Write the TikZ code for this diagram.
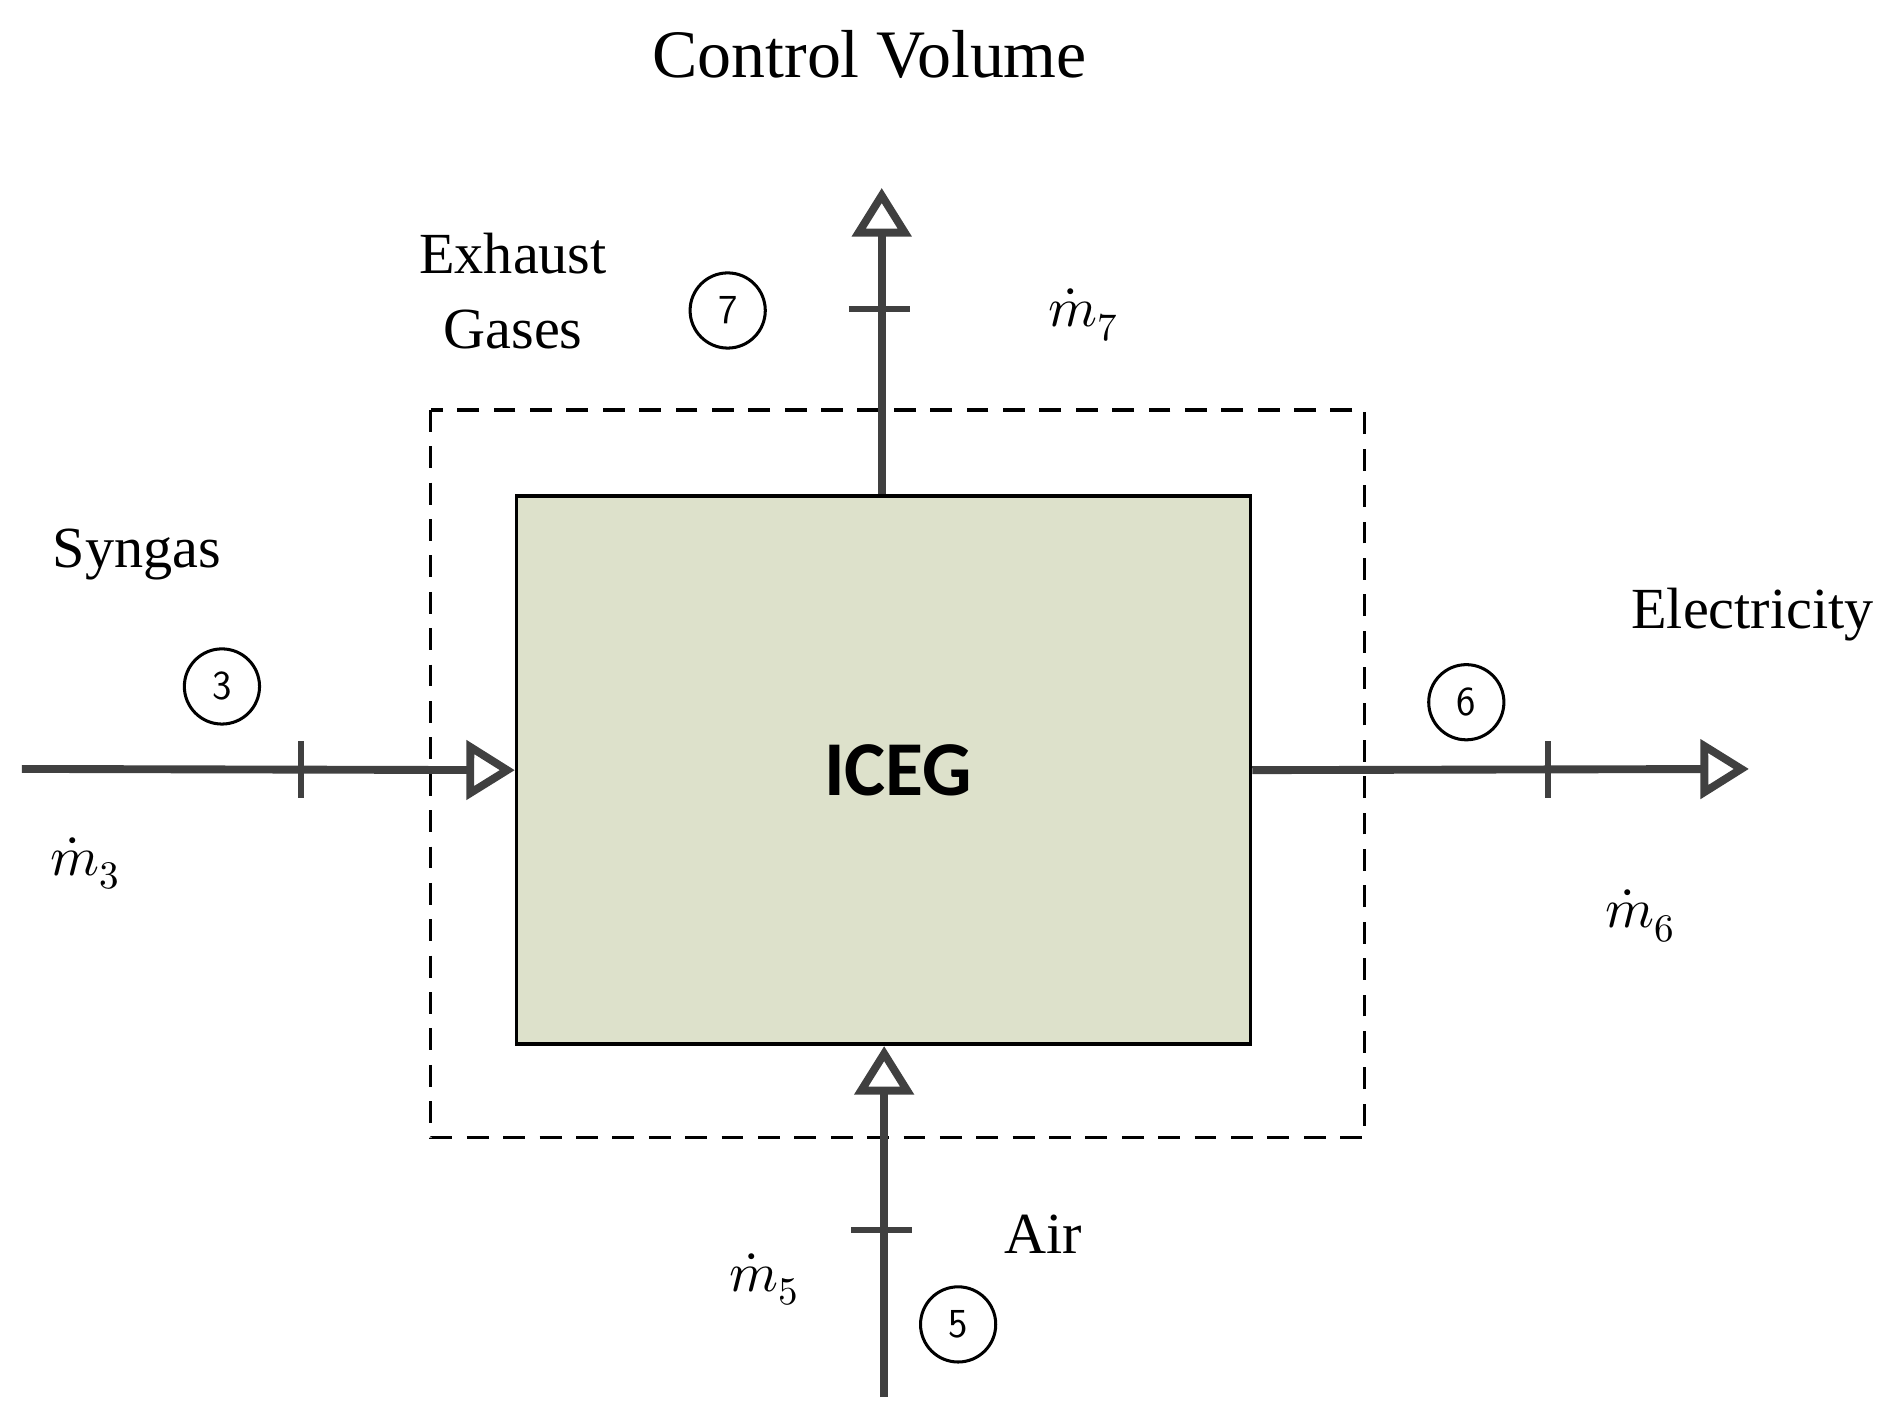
\documentclass[tikz,border=0pt]{standalone}
\usepackage{fontspec}
\usepackage{unicode-math}
\setmainfont{Liberation Serif}
\setmathfont{Latin Modern Math}
\newfontfamily\boxfont{Carlito}
\usetikzlibrary{arrows.meta}
\definecolor{boxfill}{RGB}{221,225,203}
\definecolor{flow}{RGB}{64,64,64}
\begin{document}
\begin{tikzpicture}[x=1pt,y=-1pt,
    flowline/.style={draw=flow,line width=6.5pt,-{Triangle[open,length=40pt,width=48pt,line width=6.5pt]}},
    tick/.style={draw=flow,line width=5pt},
    state/.style={circle,draw,line width=2.5pt,minimum size=62pt,inner sep=0pt,font=\fontsize{34}{40}\selectfont\sffamily},
    lbl/.style={font=\fontsize{48}{56}\selectfont,align=center},
    mdot/.style={font=\fontsize{46}{54}\selectfont}]
  \useasboundingbox (0,0) rectangle (1560,1165);

  % control volume and engine
  \draw[dashed,line width=3pt,dash pattern=on 18pt off 12pt] (355,338) rectangle (1125,938);
  \node[draw,line width=3pt,fill=boxfill,minimum width=605pt,minimum height=452pt,anchor=north west,inner sep=0pt] (iceg) at (424.5,407.5) {};
  \node[font=\fontsize{64}{70}\selectfont\boxfont\bfseries] at ([xshift=12pt]iceg.center) {ICEG};

  \node[lbl,font=\fontsize{56}{64}\selectfont] (title) at (717,45) {Control Volume};

  % free ends
  \coordinate (syn) at (18,634);
  \coordinate (exh) at (727,155);
  \coordinate (ele) at (1442,634);
  \coordinate (air) at (729,1152);

  % flows
  \draw[flowline] (syn) -- (iceg.west);
  \draw[flowline] (iceg.north -| exh) -- (exh);
  \draw[flowline] (iceg.east) -- (ele);
  \draw[flowline] (air) -- (iceg.south -| air);

  % ticks
  \draw[tick] (248,611) -- (248,658);
  \draw[tick] (700,255) -- (750,255);
  \draw[tick] (1276,611) -- (1276,658);
  \draw[tick] (702,1014) -- (752,1014);

  % states
  \node[state] (s3) at (183,566) {3};
  \node[state] (s7) at (600,256) {7};
  \node[state] (s6) at (1209,579) {6};
  \node[state] (s5) at (790,1092) {5};

  % labels
  \node[lbl] (lsyn) at (113,457) {Syngas};
  \node[lbl,font=\fontsize{48}{62}\selectfont] (lexh) at (423,240) {Exhaust\\Gases};
  \node[lbl] (lele) at (1445,507) {Electricity};
  \node[lbl] (lair) at (860,1018) {Air};
  \node[mdot] (m3) at (70,712) {$\dot{m}_3$};
  \node[mdot] (m7) at (893,260) {$\dot{m}_7$};
  \node[mdot] (m6) at (1352,755) {$\dot{m}_6$};
  \node[mdot] (m5) at (630,1055) {$\dot{m}_5$};
\end{tikzpicture}
\end{document}
